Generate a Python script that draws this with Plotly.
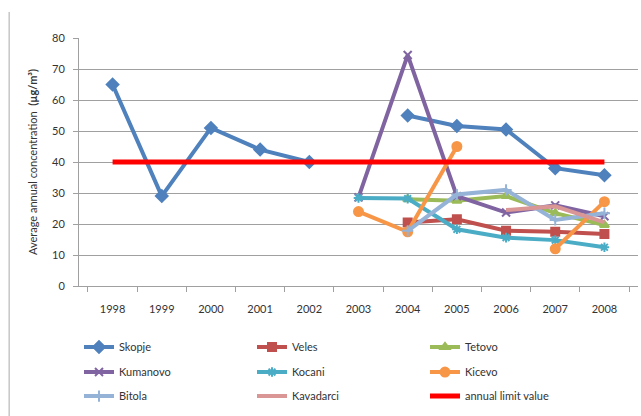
import plotly.graph_objects as go

# Annual average concentrations (µg/m³) by monitoring town
years = ["1998", "1999", "2000", "2001", "2002", "2003", "2004", "2005", "2006", "2007", "2008"]

skopje    = [65, 29, 51, 44, 40, None, 55, 51.6, 50.5, 38, 35.7]
veles     = [None, None, None, None, None, None, 20.5, 21.5, 17.8, 17.5, 16.8]
tetovo    = [None, None, None, None, None, None, 28, 27.5, 29, 23.5, 19.7]
kumanovo  = [None, None, None, None, None, 28.6, 74.5, 29, 23.7, 26, 22.5]
kocani    = [None, None, None, None, None, 28.4, 28.2, 18.3, 15.6, 14.8, 12.5]
kicevo    = [None, None, None, None, None, 24, 17.5, 45, None, 12, 27.2]
bitola    = [None, None, None, None, None, None, 17.8, 29.5, 31, 21.3, 23.5]
kavadarci = [None, None, None, None, None, None, None, None, 24.5, 25.7, 20.5]
limit     = [40] * len(years)

y_ticks = [0, 10, 20, 30, 40, 50, 60, 70, 80]

FONT = "Lato"
TEXT = "#333333"
GRID = "#A0A0A0"

series = [
    # name, values, colour, marker symbol, marker size, legend row
    ("Skopje",    skopje,    "#4F81BD", "diamond",       9, "legend"),
    ("Veles",     veles,     "#C0504D", "square",        8, "legend"),
    ("Tetovo",    tetovo,    "#9BBB59", "triangle-up",   8, "legend"),
    ("Kumanovo",  kumanovo,  "#8064A2", "x-thin",        8, "legend2"),
    ("Kocani",    kocani,    "#4BACC6", "asterisk",      8, "legend2"),
    ("Kicevo",    kicevo,    "#F79646", "circle",        9, "legend2"),
    ("Bitola",    bitola,    "#95B3D7", "cross-thin",    8, "legend3"),
    ("Kavadarci", kavadarci, "#D99694", None,            0, "legend3"),
]

fig = go.Figure()

for name, vals, color, symbol, size, leg in series:
    if symbol is None:
        mode = "lines"
        marker = None
    else:
        mode = "lines+markers"
        marker = dict(symbol=symbol, size=size, color=color,
                      line=dict(color=color, width=2))
    fig.add_trace(go.Scatter(
        x=years, y=vals, name=name, mode=mode,
        line=dict(color=color, width=4),
        marker=marker, connectgaps=False, legend=leg,
    ))

fig.add_trace(go.Scatter(
    x=years, y=limit, name="annual limit value", mode="lines",
    line=dict(color="#FF0000", width=5), legend="legend3",
))

# one horizontal legend per row, three entries in each
def row_legend(y):
    return dict(
        orientation="h", x=0.0, xanchor="left", y=y, yanchor="middle",
        entrywidth=128, entrywidthmode="pixels", itemwidth=30,
        font=dict(family=FONT, size=11, color=TEXT),
        bgcolor="rgba(0,0,0,0)",
    )

fig.update_layout(
    width=641, height=416,
    margin=dict(l=79, r=3, t=38, b=130, autoexpand=False),
    paper_bgcolor="white", plot_bgcolor="white",
    font=dict(family=FONT, size=11, color=TEXT),
    showlegend=True,
    legend=row_legend(-0.246),
    legend2=row_legend(-0.347),
    legend3=row_legend(-0.444),
    xaxis=dict(
        type="category", tickson="boundaries", ticks="outside", ticklen=5,
        tickcolor=GRID, showline=True, linecolor=GRID, linewidth=1,
        showgrid=False, ticklabelstandoff=13,
        tickfont=dict(family=FONT, size=11, color=TEXT),
    ),
    yaxis=dict(
        range=[0, 80], tickvals=y_ticks, ticks="outside", ticklen=5,
        tickcolor=GRID, showline=True, linecolor=GRID, linewidth=1,
        gridcolor=GRID, gridwidth=1, zeroline=False, ticklabelstandoff=6,
        tickfont=dict(family=FONT, size=11, color=TEXT),
        title=dict(text="Average annual concentration  <b>(µg/m³)</b>",
                   font=dict(family=FONT, size=11, color=TEXT), standoff=12),
    ),
    shapes=[dict(type="line", xref="paper", yref="paper",
                 x0=-0.125, x1=-0.125, y0=1.105, y1=-0.53,
                 line=dict(color="#AAAAAA", width=1))],
)

fig.write_html("out.html")
